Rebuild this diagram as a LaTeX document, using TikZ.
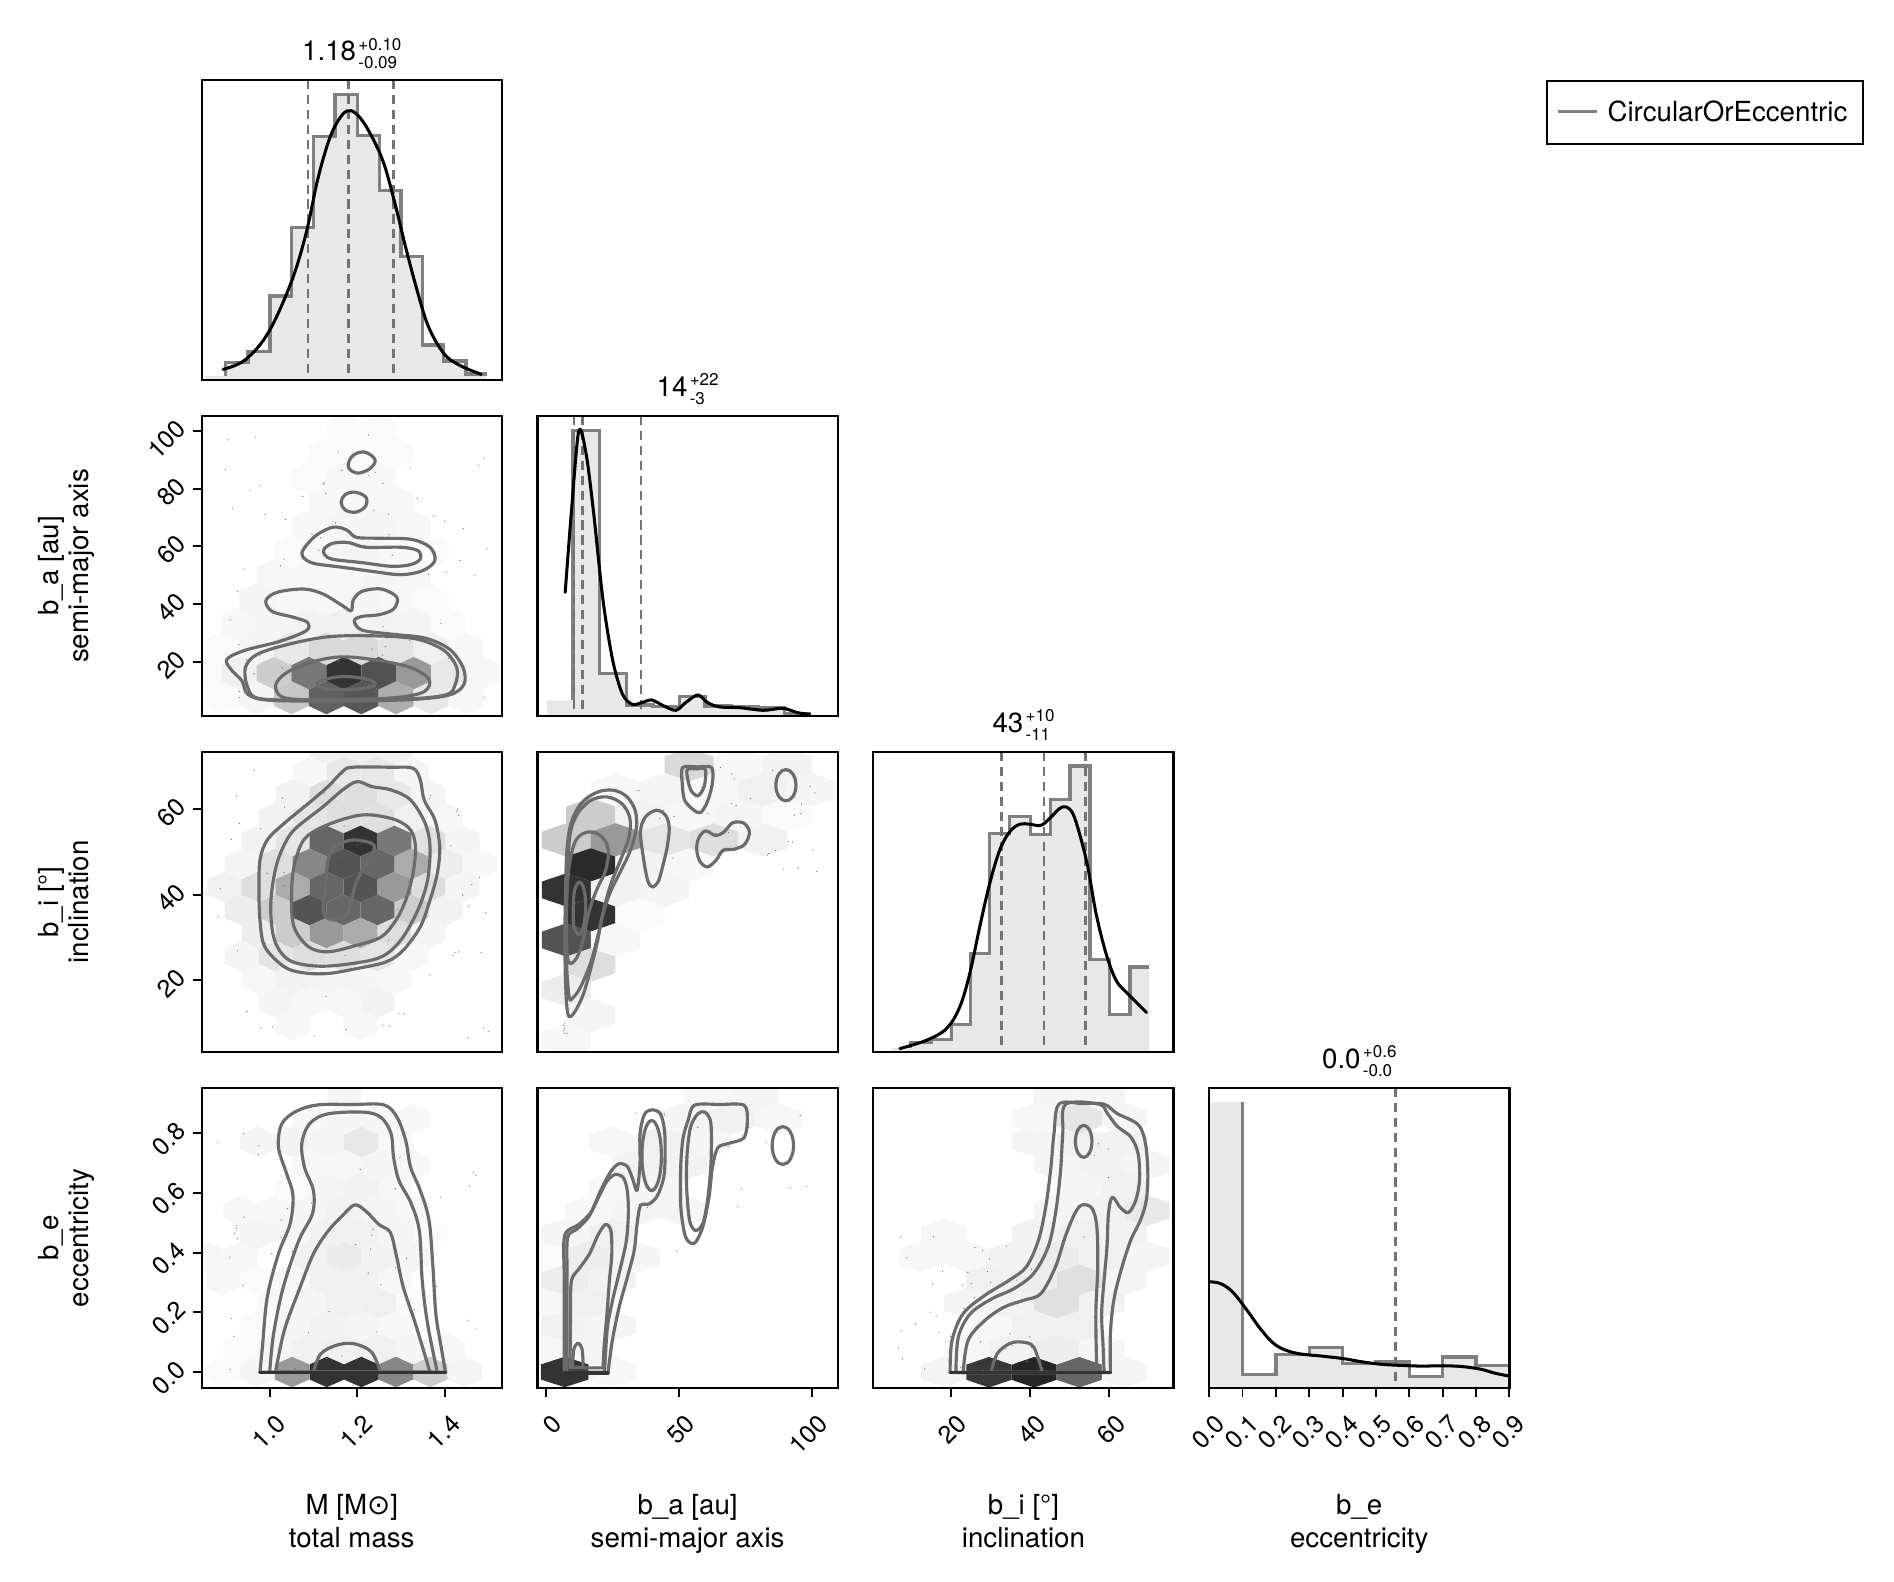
\documentclass[tikz,border=0pt]{standalone}
\usepackage{fontspec}
\setmainfont{TeX Gyre Heros}
\newfontfamily\djv{DejaVu Sans}
\newcommand\hx[3]{\fill[black!#3] ({#1-\hexw},{#2-0.5*\hexh}) -- (#1,{#2-\hexh}) -- ({#1+\hexw},{#2-0.5*\hexh}) -- ({#1+\hexw},{#2+0.5*\hexh}) -- (#1,{#2+\hexh}) -- ({#1-\hexw},{#2+0.5*\hexh}) -- cycle;}
\newcommand\hexrow[2]{\foreach \hcx/\hcs in {#2}{\hx{\hcx}{#1}{\hcs}}}
\newcommand\sprinkle[5]{\foreach \k in {1,...,#1}{\pgfmathsetmacro\rx{#2+(#3-#2)*rnd}\pgfmathsetmacro\ry{#4+(#5-#4)*rnd}\fill[dotc] (\rx,\ry) circle (0.55pt);}}
\tikzset{
 panelframe/.style={draw=black, line width=1.9pt},
 cont/.style={draw=black!58, line width=2.6pt, line join=round, line cap=round},
 dense/.style={draw=black!80, line width=2.8pt, line cap=round},
 hline/.style={draw=black!50, line width=2.8pt},
 hfill/.style={fill=black!9},
 kde/.style={draw=black, line width=2.5pt, line join=round, line cap=round},
 qline/.style={draw=black!55, line width=2.3pt, dash pattern=on 7.5pt off 4.8pt},
 tickmark/.style={draw=black, line width=1.6pt},
 ticklab/.style={font=\fontsize{20.5}{24}\selectfont, inner sep=0pt, rotate=45, anchor=east},
 axlab/.style={font=\fontsize{22.8}{27}\selectfont, inner sep=0pt, anchor=base},
 ylab/.style={font=\fontsize{22.8}{27}\selectfont, inner sep=0pt, anchor=base, rotate=90},
 ttl/.style={font=\fontsize{22.8}{27}\selectfont, inner sep=0pt, anchor=base east},
 scr/.style={font=\fontsize{14}{16}\selectfont, inner sep=0pt, anchor=base west},
 dotc/.style={fill=black!55}
}
\begin{document}
\begin{tikzpicture}[x=1pt, y=-1pt]
\pgfmathsetseed{42}
\useasboundingbox (0,0) rectangle (1560,1303);

%================ r1c1 : M histogram
\begin{scope}
\clip (166.1,65.9) rectangle ++(247.3,247.1);
\begin{scope}[shift={(0.08,0.01)}, x=0.31503pt, y=-0.27456pt]
\fill[hfill] (537,1145) -- (537,1128) -- (590,1128) -- (590,1088) -- (648,1088) -- (648,1055) -- (706,1055) -- (706,888) -- (762,888) -- (762,683) -- (820,683) -- (820,410) -- (876,410) -- (876,283) -- (934,283) -- (934,407) -- (992,407) -- (992,572) -- (1048,572) -- (1048,770) -- (1104,770) -- (1104,1035) -- (1160,1035) -- (1160,1083) -- (1218,1083) -- (1218,1122) -- (1272,1122) -- (1272,1145) -- cycle;
\draw[hline] (590,1128) -- (590,1088) -- (648,1088) -- (648,1055) -- (706,1055) -- (706,888) -- (762,888) -- (762,683) -- (820,683) -- (820,410) -- (876,410) -- (876,283) -- (934,283) -- (934,407) -- (992,407) -- (992,572) -- (1048,572) -- (1048,770) -- (1104,770) -- (1104,1035) -- (1160,1035) -- (1160,1083) -- (1218,1083) -- (1218,1122) -- (1272,1122);
\foreach \q in {805,911,1028} {\draw[qline] (\q,240) -- (\q,1140);}
\draw[kde] plot[smooth, tension=0.6] coordinates {(583,1108) (640,1080) (700,1000) (760,850) (800,700) (830,540) (860,420) (885,360) (907,333) (930,340) (960,385) (1000,480) (1030,600) (1060,740) (1090,870) (1120,980) (1160,1060) (1200,1095) (1258,1123)};
\end{scope}
\end{scope}
\draw[panelframe] (166.1,65.9) rectangle ++(247.3,247.1);

%================ r2c1 : M vs b_a
\begin{scope}
\clip (166.1,342.6) rectangle ++(247.3,247.1);
\begin{scope}[shift={(164.73,462.36)}, x=0.27386pt, y=-0.27386pt]
\def\hexw{52.5}\def\hexh{50}
\hexrow{410}{65/2,170/4,275/22,380/62,485/66,590/32,695/9,800/3}
\hexrow{335}{12.5/2,117.5/6,222.5/20,327.5/53,432.5/80,537.5/68,642.5/40,747.5/9,852.5/3}
\hexrow{262}{65/2,170/4,275/9,380/15,485/15,590/11,695/6,800/3}
\hexrow{188}{117.5/3,222.5/4,327.5/5,432.5/6,537.5/5,642.5/4,747.5/2}
\hexrow{115}{170/4,275/3,380/3,485/4,590/3,695/2}
\hexrow{42}{222.5/3,327.5/3,432.5/3,537.5/4,642.5/3}
\hexrow{-31}{275/2,380/3,485/4,590/3,695/2}
\hexrow{-104}{327.5/3,432.5/4,537.5/4,642.5/3}
\hexrow{-177}{380/3,485/3,590/3}
\hexrow{-250}{327.5/2,432.5/3,537.5/3}
\hexrow{-323}{380/2,485/2,590/2}
\hexrow{-396}{432.5/2,537.5/2}
\end{scope}
\begin{scope}[shift={(82.07,329.67)}, x=0.40016pt, y=-0.27517pt]
\sprinkle{70}{250}{800}{90}{900}
\draw[cont] plot[smooth cycle, tension=0.55] coordinates {(262,775) (300,748) (370,722) (425,690) (428,665) (400,650) (355,632) (342,600) (365,575) (420,565) (460,580) (500,615) (518,630) (522,598) (540,572) (580,565) (612,590) (605,625) (575,642) (540,647) (524,660) (540,688) (600,700) (670,712) (720,745) (748,800) (750,850) (720,882) (640,896) (500,900) (350,898) (305,880) (293,840) (270,805)};
\draw[cont] plot[smooth cycle, tension=0.55] coordinates {(300,800) (325,760) (390,730) (470,708) (560,705) (650,714) (708,748) (735,800) (732,850) (712,882) (620,895) (450,898) (330,893) (305,860)};
\draw[cont] plot[smooth cycle, tension=0.55] coordinates {(362,855) (385,815) (440,782) (500,768) (570,778) (640,800) (678,835) (668,872) (610,890) (500,896) (385,892)};
\draw[cont] plot[smooth cycle, tension=0.6] coordinates {(447,850) (470,833) (510,827) (555,837) (566,853) (530,864) (470,865)};
\draw[cont] plot[smooth cycle, tension=0.55] coordinates {(420,445) (445,405) (480,380) (508,388) (528,410) (570,413) (640,416) (680,440) (690,480) (665,510) (620,522) (560,512) (500,500) (440,488) (418,468)};
\draw[cont] plot[smooth cycle, tension=0.55] coordinates {(462,445) (480,428) (512,426) (548,440) (620,440) (655,450) (660,475) (640,492) (600,497) (540,486) (480,476) (463,462)};
\draw[cont] plot[smooth cycle, tension=0.6] coordinates {(497,305) (505,283) (525,275) (548,290) (547,318) (527,335) (505,328)};
\draw[cont] plot[smooth cycle, tension=0.6] coordinates {(512,200) (520,167) (545,155) (567,178) (556,205) (530,218)};
\end{scope}
\end{scope}
\draw[panelframe] (166.1,342.6) rectangle ++(247.3,247.1);

%================ r2c2 : b_a histogram
\begin{scope}
\clip (442.7,342.6) rectangle ++(247.3,247.1);
\begin{scope}[shift={(80.56,329.67)}, x=0.40016pt, y=-0.27517pt]
\fill[hfill] (925,950) -- (925,898) -- (978,898) -- (978,90) -- (1033,90) -- (1033,817) -- (1088,817) -- (1088,912) -- (1143,912) -- (1143,917) -- (1197,917) -- (1197,887) -- (1250,887) -- (1250,915) -- (1303,915) -- (1303,917) -- (1360,917) -- (1360,920) -- (1413,920) -- (1413,938) -- (1467,938) -- (1467,950) -- cycle;
\draw[hline] (978,898) -- (978,90) -- (1033,90) -- (1033,817) -- (1088,817) -- (1088,912) -- (1143,912) -- (1143,917) -- (1197,917) -- (1197,887) -- (1250,887) -- (1250,915) -- (1303,915) -- (1303,917) -- (1360,917) -- (1360,920) -- (1413,920) -- (1413,938) -- (1467,938);
\foreach \q in {980,998,1118} {\draw[qline] (\q,47) -- (\q,945);}
\draw[kde] plot[smooth, tension=0.5] coordinates {(962,575) (975,330) (990,92) (1005,160) (1020,330) (1040,600) (1060,780) (1080,880) (1100,910) (1120,905) (1140,897) (1165,915) (1190,928) (1210,905) (1235,882) (1255,905) (1280,918) (1320,920) (1370,928) (1410,922) (1440,935) (1465,940)};
\end{scope}
\end{scope}
\draw[panelframe] (442.7,342.6) rectangle ++(247.3,247.1);

%================ r3c1 : M vs b_i
\begin{scope}
\clip (166.1,619.3) rectangle ++(247.3,247.1);
\begin{scope}[shift={(82.07,609.41)}, x=0.40016pt, y=-0.27486pt]
\def\hexw{35}\def\hexh{46}
\hexrow{27}{467/6,537/6,607/6}
\hexrow{96}{432/3,502/9,572/9,642/4}
\hexrow{165}{397/5,467/13,537/13,607/9,677/4}
\hexrow{234}{362/5,432/10,502/13,572/12,642/6,712/3}
\hexrow{303}{327/5,397/10,467/60,537/80,607/53,677/12,747/4}
\hexrow{372}{292/4,362/13,432/47,502/67,572/60,642/33,712/7,782/3}
\hexrow{441}{257/6,327/13,397/33,467/60,537/67,607/40,677/13,747/4}
\hexrow{510}{292/7,362/20,432/67,502/60,572/60,642/20,712/5}
\hexrow{579}{327/7,397/20,467/40,537/33,607/13,677/4}
\hexrow{648}{292/4,362/10,432/13,502/13,572/10,642/3}
\hexrow{717}{327/3,397/5,467/4,537/4,607/3}
\hexrow{786}{362/4,432/3,502/3,572/5}
\hexrow{855}{397/3,537/3}
\sprinkle{60}{240}{800}{90}{900}
\draw[cont] plot[smooth cycle, tension=0.55] coordinates {(330,360) (345,300) (380,250) (430,190) (470,140) (500,95) (520,82) (600,82) (645,85) (660,120) (668,180) (690,240) (700,320) (695,400) (680,480) (660,560) (625,630) (590,665) (530,685) (470,700) (420,698) (380,680) (340,620) (330,540) (328,450)};
\draw[cont] plot[smooth cycle, tension=0.55] coordinates {(360,400) (375,330) (400,270) (460,200) (500,150) (530,125) (560,140) (600,150) (640,180) (670,250) (680,320) (675,420) (655,510) (620,600) (580,650) (520,670) (450,678) (390,660) (360,600) (352,500)};
\draw[cont] plot[smooth cycle, tension=0.55] coordinates {(400,380) (420,300) (460,260) (520,230) (560,225) (610,240) (640,270) (650,320) (645,400) (630,480) (610,540) (580,590) (530,615) (470,635) (430,620) (400,560) (395,470)};
\draw[cont] plot[smooth cycle, tension=0.55] coordinates {(470,360) (485,320) (520,300) (560,310) (565,330) (550,370) (530,420) (520,470) (510,520) (490,540) (465,530) (460,490) (465,440)};
\end{scope}
\end{scope}
\draw[panelframe] (166.1,619.3) rectangle ++(247.3,247.1);

%================ r3c2 : b_a vs b_i
\begin{scope}
\clip (442.7,619.3) rectangle ++(247.3,247.1);
\begin{scope}[shift={(436.64,617.93)}, x=0.27539pt, y=-0.27456pt]
\def\hexw{73.5}\def\hexh{50}
\hexrow{44}{475.5/15,622.5/3,769.5/5}
\hexrow{119}{255.5/3,402.5/4,549.5/3,696.5/6,843.5/4}
\hexrow{194}{181.5/20,328.5/5,475.5/3,622.5/4,769.5/2}
\hexrow{269}{108.5/20,255.5/40,402.5/10,549.5/13,696.5/5}
\hexrow{344}{181.5/83,328.5/5,475.5/3}
\hexrow{419}{108.5/80,255.5/5,402.5/4}
\hexrow{494}{181.5/80,328.5/2}
\hexrow{569}{108.5/67,255.5/3}
\hexrow{644}{181.5/13}
\hexrow{719}{108.5/7}
\hexrow{794}{181.5/4}
\hexrow{869}{108.5/3}
\sprinkle{30}{320}{860}{40}{420}
\sprinkle{6}{100}{125}{815}{865}
\draw[cont] plot[smooth cycle, tension=0.55] coordinates {(113,792) (106,700) (104,560) (106,420) (110,300) (122,220) (152,160) (200,126) (250,120) (290,140) (314,180) (318,232) (300,300) (268,368) (238,430) (216,500) (200,580) (180,660) (158,735) (130,790)};
\draw[cont] plot[smooth cycle, tension=0.55] coordinates {(117,742) (109,640) (108,500) (112,360) (120,250) (142,190) (182,150) (230,140) (274,160) (298,202) (296,260) (270,330) (242,400) (222,470) (202,560) (180,640) (150,712) (128,742)};
\draw[cont] plot[smooth cycle, tension=0.55] coordinates {(115,635) (108,560) (109,450) (118,340) (138,268) (175,245) (213,258) (234,298) (226,360) (203,410) (186,452) (171,505) (156,580) (136,628)};
\draw[cont] plot[smooth cycle, tension=0.6] coordinates {(129,475) (133,420) (148,395) (162,420) (166,475) (159,530) (146,552) (131,530)};
\draw[cont] plot[smooth cycle, tension=0.55] coordinates {(330,245) (345,200) (378,180) (405,195) (416,232) (410,290) (398,342) (384,392) (366,410) (352,392) (340,330)};
\draw[cont] plot[smooth cycle, tension=0.5] coordinates {(462,150) (455,100) (456,52) (500,50) (543,52) (545,100) (530,155) (510,187) (490,180)};
\draw[cont] plot[smooth cycle, tension=0.5] coordinates {(470,58) (498,56) (524,58) (521,108) (502,137) (482,122) (472,90)};
\draw[cont] (765,105) ellipse [x radius=30, y radius=47];
\draw[cont] plot[smooth cycle, tension=0.55] coordinates {(498,295) (505,262) (525,242) (555,256) (580,245) (605,218) (638,218) (656,245) (642,282) (610,297) (577,300) (556,330) (530,350) (507,332)};
\end{scope}
\end{scope}
\draw[panelframe] (442.7,619.3) rectangle ++(247.3,247.1);

%================ r3c3 : b_i histogram
\begin{scope}
\clip (719.3,619.3) rectangle ++(247.3,247.1);
\begin{scope}[shift={(708.35,576.74)}, x=0.27386pt, y=-0.27456pt]
\fill[hfill] (95,1060) -- (95,1043) -- (152,1043) -- (152,1027) -- (215,1027) -- (215,1018) -- (275,1018) -- (275,972) -- (333,972) -- (333,760) -- (390,760) -- (390,400) -- (450,400) -- (450,348) -- (512,348) -- (512,403) -- (572,403) -- (572,298) -- (632,298) -- (632,197) -- (692,197) -- (692,777) -- (750,777) -- (750,943) -- (812,943) -- (812,800) -- (870,800) -- (870,1060) -- cycle;
\draw[hline] (152,1043) -- (152,1027) -- (215,1027) -- (215,1018) -- (275,1018) -- (275,972) -- (333,972) -- (333,760) -- (390,760) -- (390,400) -- (450,400) -- (450,348) -- (512,348) -- (512,403) -- (572,403) -- (572,298) -- (632,298) -- (632,197) -- (692,197) -- (692,777) -- (750,777) -- (750,943) -- (812,943) -- (812,800) -- (870,800);
\foreach \q in {425,553,679} {\draw[qline] (\q,155) -- (\q,1055);}
\draw[kde] plot[smooth, tension=0.6] coordinates {(120,1045) (200,1020) (260,985) (300,920) (330,820) (360,680) (390,550) (420,450) (450,395) (480,372) (510,372) (545,375) (575,350) (600,325) (620,320) (640,340) (660,400) (685,500) (710,640) (740,760) (770,840) (800,875) (830,905) (862,937)};
\end{scope}
\end{scope}
\draw[panelframe] (719.3,619.3) rectangle ++(247.3,247.1);

%================ r4c1 : M vs b_e
\begin{scope}
\clip (166.1,896.0) rectangle ++(247.3,247.1);
\begin{scope}[shift={(82.07,889.96)}, x=0.40016pt, y=-0.27456pt]
\def\hexw{35.5}\def\hexh{46}
\hexrow{874}{254/2,325/4,396/40,467.5/80,538.5/80,609.5/47,680.5/20,751.5/4}
\hexrow{805}{290/2,361/4,432/6,503/6,574/6,645/4,716/3}
\hexrow{736}{325/2,396/4,467.5/5,538.5/4,609.5/3}
\hexrow{667}{361/3,432/4,503/6,574/6,645/2}
\hexrow{598}{254/3,325/2,396/3,467.5/6,538.5/6,609.5/3}
\hexrow{529}{219/3,290/3,432/6,503/8,574/5,645/4}
\hexrow{460}{325/4,396/4,467.5/6,538.5/6,609.5/4,680.5/2}
\hexrow{391}{290/3,361/3,432/4,503/5,574/4,645/3}
\hexrow{322}{396/2,467.5/4,538.5/5,609.5/3}
\hexrow{253}{432/3,503/3,574/4,645/3}
\hexrow{184}{325/4,396/5,467.5/4,538.5/9,609.5/3}
\hexrow{115}{432/3,503/4,574/4,645/3}
\hexrow{46}{503/4}
\sprinkle{50}{240}{800}{90}{880}
\draw[cont] plot[smooth, tension=0.55] coordinates {(330,875) (335,800) (345,650) (368,520) (392,430) (398,345) (385,280) (368,200) (375,130) (405,92) (450,73) (520,72) (585,73) (612,110) (630,180) (640,260) (660,330) (678,420) (686,560) (692,700) (703,800) (712,875)} -- cycle;
\draw[cont] plot[smooth, tension=0.55] coordinates {(350,875) (358,760) (378,620) (410,480) (438,400) (440,330) (422,262) (416,190) (432,130) (470,100) (545,95) (580,112) (600,160) (605,230) (616,300) (640,365) (658,450) (664,600) (675,730) (695,875)} -- cycle;
\draw[cont] plot[smooth, tension=0.55] coordinates {(362,875) (380,750) (410,630) (440,520) (470,452) (500,405) (525,373) (548,392) (575,432) (598,455) (610,520) (625,620) (650,730) (680,875)} -- cycle;
\draw[cont] plot[smooth, tension=0.55] coordinates {(440,875) (455,820) (490,793) (525,790) (560,815) (578,875)} -- cycle;
\draw[dense] (330,876) -- (712,876);
\end{scope}
\end{scope}
\draw[panelframe] (166.1,896.0) rectangle ++(247.3,247.1);

%================ r4c2 : b_a vs b_e
\begin{scope}
\clip (442.7,896.0) rectangle ++(247.3,247.1);
\begin{scope}[shift={(80.56,889.96)}, x=0.40016pt, y=-0.27456pt]
\def\hexw{49}\def\hexh{46}
\hexrow{874}{961/80,1059/3}
\hexrow{805}{912/3,1010/4}
\hexrow{736}{961/5,1059/4}
\hexrow{667}{912/3,1010/6}
\hexrow{598}{961/7,1059/5}
\hexrow{529}{912/2,1010/7,1108/4}
\hexrow{460}{961/4,1059/6}
\hexrow{391}{1010/3,1108/4,1206/4}
\hexrow{322}{1059/3,1157/4}
\hexrow{253}{1108/5,1206/5}
\hexrow{184}{1059/3,1157/6,1255/4}
\hexrow{115}{1206/4,1304/6,1402/3}
\hexrow{46}{1255/3,1353/4}
\sprinkle{20}{1100}{1470}{80}{520}
\draw[cont] plot[smooth, tension=0.5] coordinates {(960,878) (960,600) (961,465) (990,432) (1015,395) (1035,330) (1055,275) (1072,250) (1090,258) (1102,300) (1110,330) (1116,250) (1116,160) (1125,102) (1140,88) (1158,100) (1167,160) (1166,280) (1152,345) (1135,370) (1117,375) (1110,430) (1104,510) (1090,590) (1073,680) (1059,780) (1050,878)} -- cycle;
\draw[cont] plot[smooth, tension=0.5] coordinates {(966,875) (966,600) (967,472) (987,445) (1010,410) (1030,352) (1048,302) (1065,282) (1082,292) (1090,332) (1092,400) (1088,480) (1076,560) (1061,650) (1049,740) (1043,875)} -- cycle;
\draw[cont] plot[smooth, tension=0.5] coordinates {(972,862) (973,700) (975,600) (992,562) (1012,520) (1030,462) (1045,432) (1056,450) (1058,520) (1053,600) (1048,700) (1042,800) (1040,862)} -- cycle;
\draw[cont] plot[smooth, tension=0.5] coordinates {(977,860) (980,805) (989,788) (997,808) (999,860)} -- cycle;
\draw[cont] (1140,225) ellipse [x radius=20, y radius=105];
\draw[cont] plot[smooth cycle, tension=0.5] coordinates {(1215,120) (1228,74) (1280,72) (1330,74) (1337,120) (1330,172) (1300,188) (1276,202) (1265,262) (1258,350) (1245,440) (1228,488) (1210,470) (1200,380) (1200,250) (1205,170)};
\draw[cont] plot[smooth cycle, tension=0.5] coordinates {(1220,140) (1235,100) (1250,95) (1262,130) (1262,250) (1255,360) (1245,430) (1230,450) (1218,420) (1212,320) (1213,220)};
\draw[cont] (1410,195) ellipse [x radius=22, y radius=57];
\draw[dense] (960,877) -- (1050,877);
\end{scope}
\end{scope}
\draw[panelframe] (442.7,896.0) rectangle ++(247.3,247.1);

%================ r4c3 : b_i vs b_e
\begin{scope}
\clip (719.3,896.0) rectangle ++(247.3,247.1);
\begin{scope}[shift={(707.3,889.11)}, x=0.40016pt, y=-0.27547pt]
\def\hexw{46.5}\def\hexh{46}
\hexrow{875}{175/4,268/78,361/85,454/60,547/4}
\hexrow{806}{221.5/3,314.5/5,407.5/7,500.5/4}
\hexrow{737}{268/3,361/6,454/6}
\hexrow{668}{221.5/4,314.5/5,407.5/12,500.5/5}
\hexrow{599}{268/6,361/7,454/12,547/4}
\hexrow{530}{128.5/3,221.5/3,314.5/5,407.5/8,500.5/6,593.5/4}
\hexrow{461}{175/3,361/5,454/6,547/5}
\hexrow{392}{407.5/4,500.5/5,593.5/9}
\hexrow{323}{454/4,547/6}
\hexrow{254}{407.5/4,500.5/5,593.5/4}
\hexrow{185}{361/4,454/6,547/5}
\hexrow{116}{361/3,454/10,547/4}
\hexrow{47}{407.5/4,500.5/4}
\sprinkle{40}{80}{360}{450}{880}
\sprinkle{8}{360}{560}{180}{520}
\draw[cont] plot[smooth, tension=0.55] coordinates {(188,876) (192,780) (215,700) (260,645) (310,600) (345,560) (370,480) (385,380) (395,270) (402,160) (412,74) (460,72) (505,74) (532,102) (575,135) (590,190) (595,280) (592,360) (580,420) (560,480) (540,570) (525,660) (518,760) (518,876)} -- cycle;
\draw[cont] plot[smooth, tension=0.55] coordinates {(200,876) (205,770) (230,700) (275,655) (320,625) (360,580) (390,500) (405,400) (415,280) (420,160) (426,74) (495,74) (512,102) (532,140) (560,172) (575,222) (578,300) (570,362) (555,398) (538,382) (522,352) (514,400) (511,500) (505,600) (500,700) (503,800) (505,876)} -- cycle;
\draw[cont] plot[smooth, tension=0.55] coordinates {(215,876) (225,780) (260,720) (300,680) (340,660) (375,640) (405,560) (425,470) (445,400) (460,375) (480,385) (490,440) (492,560) (488,700) (490,876)} -- cycle;
\draw[cont] plot[smooth, tension=0.55] coordinates {(272,876) (285,820) (310,790) (335,785) (360,800) (378,876)} -- cycle;
\draw[cont] (463,185) ellipse [x radius=17, y radius=48];
\draw[dense] (188,877) -- (518,877);
\end{scope}
\end{scope}
\draw[panelframe] (719.3,896.0) rectangle ++(247.3,247.1);

%================ r4c4 : b_e histogram
\begin{scope}
\clip (995.9,896.0) rectangle ++(247.3,247.1);
\begin{scope}[shift={(706.98,889.11)}, x=0.40016pt, y=-0.27547pt]
\fill[hfill] (722,930) -- (722,68) -- (790.7,68) -- (790.7,882) -- (859.3,882) -- (859.3,823) -- (928,823) -- (928,802) -- (996.7,802) -- (996.7,850) -- (1065.3,850) -- (1065.3,845) -- (1134,845) -- (1134,888) -- (1202.7,888) -- (1202.7,830) -- (1271.3,830) -- (1271.3,855) -- (1340,855) -- (1340,930) -- cycle;
\draw[hline] (790.7,68) -- (790.7,882) -- (859.3,882) -- (859.3,823) -- (928,823) -- (928,802) -- (996.7,802) -- (996.7,850) -- (1065.3,850) -- (1065.3,845) -- (1134,845) -- (1134,888) -- (1202.7,888) -- (1202.7,830) -- (1271.3,830) -- (1271.3,855) -- (1340,855);
\draw[qline] (1105,25) -- (1105,922);
\draw[kde] plot[smooth, tension=0.6] coordinates {(722,605) (745,610) (770,635) (800,690) (830,750) (860,795) (900,818) (960,828) (1000,835) (1040,845) (1080,852) (1120,855) (1160,857) (1200,856) (1240,858) (1280,866) (1310,878) (1340,887)};
\end{scope}
\end{scope}
\draw[panelframe] (995.9,896.0) rectangle ++(247.3,247.1);

%================ titles
\node[ttl] (t1) at (293.5,50.2) {1.18};
\node[scr] (t1p) at (295.0,41.2) {+0.10};
\node[scr] (t1m) at (295.0,56.3) {-0.09};
\node[ttl] (t2) at (566.45,326.9) {14};
\node[scr] (t2p) at (567.95,317.9) {+22};
\node[scr] (t2m) at (567.95,333.0) {-3};
\node[ttl] (t3) at (843.05,603.6) {43};
\node[scr] (t3p) at (844.55,594.6) {+10};
\node[scr] (t3m) at (844.55,609.7) {-11};
\node[ttl] (t4) at (1120.85,880.3) {0.0};
\node[scr] (t4p) at (1122.35,871.3) {+0.6};
\node[scr] (t4m) at (1122.35,886.4) {-0.0};

%================ y ticks
\foreach \yy/\tl [count=\i] in {355.0/100,402.5/80,449.9/60,497.4/40,544.9/20} {
 \draw[tickmark] (158.6,\yy) -- (166.1,\yy);
 \node[ticklab] (yta\i) at (149.5,\yy-5.4) {\tl};}
\foreach \yy/\tl [count=\i] in {666.3/60,736.8/40,807.3/20} {
 \draw[tickmark] (158.6,\yy) -- (166.1,\yy);
 \node[ticklab] (ytb\i) at (149.5,\yy-5.4) {\tl};}
\foreach \yy/\tl [count=\i] in {933.1/0.8,982.4/0.6,1031.7/0.4,1080.9/0.2,1130.2/0.0} {
 \draw[tickmark] (158.6,\yy) -- (166.1,\yy);
 \node[ticklab] (ytc\i) at (149.5,\yy-5.4) {\tl};}

%================ x ticks
\foreach \xx/\tl [count=\i] in {222.1/1.0,294.2/1.2,366.2/1.4,449.5/0,559.6/50,668.8/100,782.9/20,848.6/40,913.8/60} {
 \draw[tickmark] (\xx,1143.1) -- (\xx,1150.6);
 \node[ticklab] (xta\i) at (\xx+9.4,1169.3) {\tl};}
\foreach \tl [count=\i from 0] in {0.0,0.1,0.2,0.3,0.4,0.5,0.6,0.7,0.8,0.9} {
 \pgfmathsetmacro\xx{995.9+27.478*\i}
 \draw[tickmark] (\xx,1143.1) -- (\xx,1150.6);
 \node[ticklab] (xtb\i) at (\xx+9.4,1169.3) {\tl};}

%================ axis labels
\node[axlab] (xl1a) at (289.75,1247.5) {M [M{\djv ⊙}]};
\node[axlab] (xl1b) at (289.75,1274.5) {total mass};
\node[axlab] (xl2a) at (566.35,1247.5) {b\_a [au]};
\node[axlab] (xl2b) at (566.35,1274.5) {semi-major axis};
\node[axlab] (xl3a) at (842.95,1247.5) {b\_i [°]};
\node[axlab] (xl3b) at (842.95,1274.5) {inclination};
\node[axlab] (xl4a) at (1119.55,1247.5) {b\_e};
\node[axlab] (xl4b) at (1119.55,1274.5) {eccentricity};
\node[ylab] (yl2a) at (48,466.15) {b\_a [au]};
\node[ylab] (yl2b) at (72.5,466.15) {semi-major axis};
\node[ylab] (yl3a) at (48,742.85) {b\_i [°]};
\node[ylab] (yl3b) at (72.5,742.85) {inclination};
\node[ylab] (yl4a) at (48,1019.55) {b\_e};
\node[ylab] (yl4b) at (72.5,1019.55) {eccentricity};

%================ legend
\node[draw=black, line width=1.6pt, inner sep=0pt, minimum width=260.8pt, minimum height=52.2pt, anchor=north west] (legbox) at (1273.1,65.9) {};
\coordinate (legA) at (1283.5,92.0);
\coordinate (legB) at (1315.1,92.0);
\draw[hline] (legA) -- (legB);
\node[axlab, anchor=base west] (legtext) at (1323.9,100.2) {CircularOrEccentric};
\end{tikzpicture}
\end{document}
